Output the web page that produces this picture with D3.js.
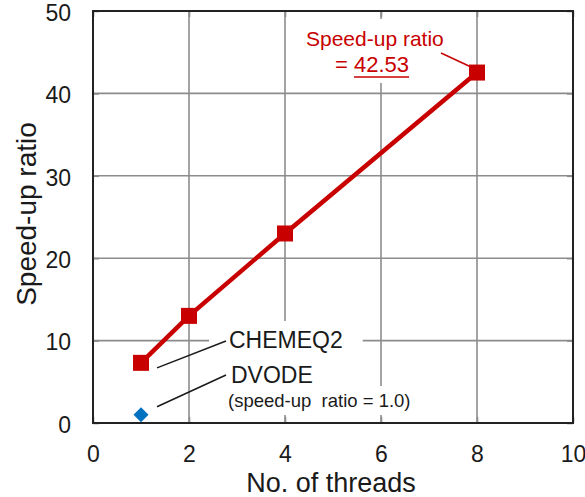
<!DOCTYPE html>
<html>
<head>
<meta charset="utf-8">
<script src="https://cdn.jsdelivr.net/npm/d3@7"></script>
<style>
  html, body { margin: 0; padding: 0; background: #fff; }
  svg { display: block; }
  text { font-family: "Liberation Sans", Arial, sans-serif; }
</style>
</head>
<body>
<svg id="chart" width="585" height="497"></svg>
<script>
// ---- data ----
const threads = [1, 2, 4, 8];
const chemeq2 = [7.3, 13.0, 23.0, 42.53];
const dvodeThreads = [1];
const dvode = [1.0];
const xTicks = [0, 2, 4, 6, 8, 10];
const yTicks = [0, 10, 20, 30, 40, 50];
const xTitle = "No. of threads";
const yTitle = "Speed-up ratio";
const chemLabel = "CHEMEQ2";
const dvodeLabel = "DVODE";
const dvodeNote = "(speed-up  ratio = 1.0)";
const peakLabel1 = "Speed-up ratio";
const peakLabel2 = "42.53";

// ---- layout ----
const svg = d3.select("#chart");
const L = 93, R = 573, T = 11, B = 423;
const x = d3.scaleLinear().domain([0, 10]).range([L, R]);
const y = d3.scaleLinear().domain([0, 50]).range([B, T]);
const RED = "#c80000", BLUE = "#0070c0", GRID = "#8c8c8c", INK = "#1a1a1a";

// gridlines
const g = svg.append("g");
g.selectAll(".vg").data(xTicks.slice(1, -1)).join("line")
  .attr("x1", d => x(d)).attr("x2", d => x(d)).attr("y1", T).attr("y2", B)
  .attr("stroke", GRID).attr("stroke-width", 1.6);
g.selectAll(".hg").data(yTicks.slice(1, -1)).join("line")
  .attr("y1", d => y(d)).attr("y2", d => y(d)).attr("x1", L).attr("x2", R)
  .attr("stroke", GRID).attr("stroke-width", 1.6);

// layers
const boxLayer = svg.append("g");
const tickLayer = svg.append("g");
const dataLayer = svg.append("g");
const textLayer = svg.append("g");

function addText(str, tx, ty, size, color, pad) {
  const t = textLayer.append("text").attr("x", tx).attr("y", ty)
    .attr("font-size", size).attr("fill", color).attr("xml:space", "preserve")
    .style("white-space", "pre").text(str);
  if (pad) {
    const bb = t.node().getBBox();
    boxLayer.append("rect")
      .attr("x", bb.x - pad[0]).attr("y", bb.y - pad[1])
      .attr("width", bb.width + 2 * pad[0]).attr("height", bb.height + 2 * pad[1])
      .attr("fill", "#fff");
  }
  return t;
}

// ticks (inward) via d3 axes
const tk = 6;
function tickStyle(s) {
  s.select(".domain").remove();
  s.selectAll("line").attr("stroke", GRID).attr("stroke-width", 1.6);
}
tickLayer.append("g").attr("transform", `translate(0,${B})`)
  .call(d3.axisTop(x).tickValues(xTicks).tickSize(tk).tickFormat("")).call(tickStyle);
tickLayer.append("g").attr("transform", `translate(0,${T})`)
  .call(d3.axisBottom(x).tickValues(xTicks).tickSize(tk).tickFormat("")).call(tickStyle);
tickLayer.append("g").attr("transform", `translate(${L},0)`)
  .call(d3.axisRight(y).tickValues(yTicks).tickSize(tk).tickFormat("")).call(tickStyle);
tickLayer.append("g").attr("transform", `translate(${R},0)`)
  .call(d3.axisLeft(y).tickValues(yTicks).tickSize(tk).tickFormat("")).call(tickStyle);

// frame
tickLayer.append("rect").attr("x", L).attr("y", T).attr("width", R - L).attr("height", B - T)
  .attr("fill", "none").attr("stroke", "#222").attr("stroke-width", 2);

// tick labels
const xAxisG = svg.append("g").attr("transform", `translate(0,${B})`)
  .call(d3.axisBottom(x).tickValues(xTicks).tickSize(0).tickPadding(23).tickFormat(d3.format("d")));
xAxisG.select(".domain").remove();
xAxisG.selectAll("text").attr("font-size", 23).attr("fill", INK)
  .attr("font-family", "Liberation Sans, Arial, sans-serif");
const yAxisG = svg.append("g").attr("transform", `translate(${L},2)`)
  .call(d3.axisLeft(y).tickValues(yTicks).tickSize(0).tickPadding(22).tickFormat(d3.format("d")));
yAxisG.select(".domain").remove();
yAxisG.selectAll("text").attr("font-size", 23).attr("fill", INK)
  .attr("font-family", "Liberation Sans, Arial, sans-serif");

// axis titles
svg.append("text").attr("x", 331).attr("y", 492).attr("text-anchor", "middle")
  .attr("font-size", 27).attr("fill", INK).text(xTitle);
svg.append("text").attr("transform", `translate(36,${214}) rotate(-90)`).attr("text-anchor", "middle")
  .attr("font-size", 28).attr("fill", INK).text(yTitle);

// annotations
addText(chemLabel, 229, 348, 23, INK, [20, 6]);
addText(dvodeLabel, 231, 383, 23, INK, [20, 5]);
addText(dvodeNote, 228, 407, 18.5, INK, [8, 4]);
addText(peakLabel1, 306, 46, 21, RED, [20, 8]);
addText("=", 335, 72, 22, RED, null);
const pk = addText(peakLabel2, 354, 72, 22, RED, [10, 6]);
const pbb = pk.node().getBBox();
textLayer.append("line").attr("x1", pbb.x).attr("x2", pbb.x + pbb.width)
  .attr("y1", 77).attr("y2", 77).attr("stroke", RED).attr("stroke-width", 1.5);

// leader lines
const leaders = [
  [x(threads[0]) + 16, y(chemeq2[0]) + 5, 226, 341, "#1a1a1a"],
  [x(dvodeThreads[0]) + 16, y(dvode[0]) - 8, 226, 375, "#1a1a1a"],
  [441, 53, x(threads[3]) - 7, y(chemeq2[3]) - 6, RED]
];
dataLayer.selectAll(".leader").data(leaders).join("line")
  .attr("x1", d => d[0]).attr("y1", d => d[1]).attr("x2", d => d[2]).attr("y2", d => d[3])
  .attr("stroke", d => d[4]).attr("stroke-width", 1.5);

// CHEMEQ2 series
const pts = threads.map((t, i) => [t, chemeq2[i]]);
dataLayer.append("path").datum(pts)
  .attr("d", d3.line().x(d => x(d[0])).y(d => y(d[1])))
  .attr("fill", "none").attr("stroke", RED).attr("stroke-width", 4.5);
dataLayer.selectAll(".sq").data(pts).join("rect")
  .attr("x", d => x(d[0]) - 8).attr("y", d => y(d[1]) - 8)
  .attr("width", 16).attr("height", 16).attr("fill", RED);

// DVODE series (square rotated 45deg)
const dpts = dvodeThreads.map((t, i) => [t, dvode[i]]);
dataLayer.selectAll(".dm").data(dpts).join("path")
  .attr("d", d3.symbol().type(d3.symbolSquare).size(112))
  .attr("transform", d => `translate(${x(d[0])},${y(d[1])}) rotate(45)`)
  .attr("fill", BLUE);
</script>
</body>
</html>
